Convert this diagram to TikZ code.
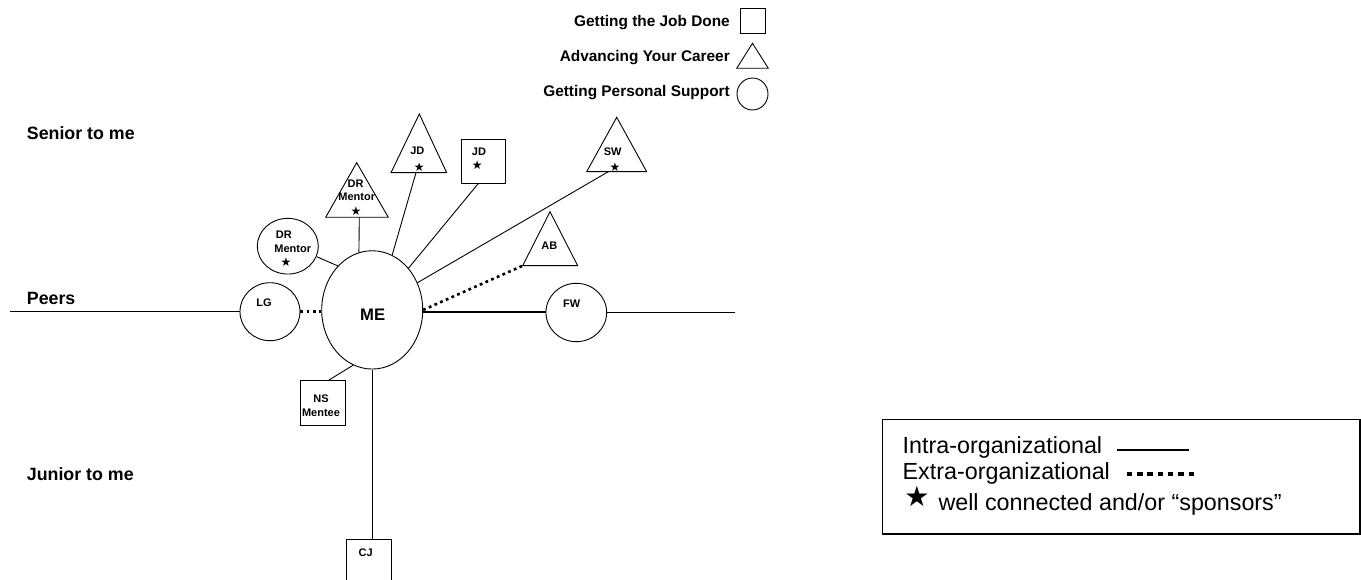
\documentclass[tikz,border=0pt]{standalone}
\usepackage{fontspec}
\setmainfont{Liberation Sans}
\newfontfamily\symfont{DejaVu Sans}
\usetikzlibrary{shapes.geometric}
\tikzset{
  conn/.style={line width=0.9pt},
  dotline/.style={line width=2.6pt, dash pattern=on 2.8pt off 3.4pt},
  shp/.style={draw, line width=0.9pt, inner sep=0pt, fill=white},
  oval/.style={shp, ellipse},
  sq/.style={shp, rectangle},
  tri/.style={line width=0.9pt, fill=white, line join=miter},
  lbl/.style={font=\fontsize{11}{12}\selectfont\bfseries, inner sep=0pt},
  starlbl/.style={font=\symfont\fontsize{12}{12}\selectfont, inner sep=0pt},
  level/.style={font=\fontsize{17.8}{20}\selectfont\bfseries, inner sep=0pt, anchor=base west},
  keytxt/.style={font=\fontsize{15.4}{18}\selectfont\bfseries, inner sep=0pt, anchor=base east},
  boxtxt/.style={font=\fontsize{23.3}{26}\selectfont, inner sep=0pt, anchor=base west}
}
\begin{document}
\begin{tikzpicture}[x=1pt,y=-1pt]
\useasboundingbox (0,0) rectangle (1361,580);
\clip (0,0) rectangle (1361,580);

% level labels
\node[level] (senior) at (26.7,139.3) {Senior to me};
\node[level] (peers) at (26.7,305) {Peers};
\node[level] (junior) at (26.7,480) {Junior to me};

% key at top
\node[keytxt] (k1) at (730,26.7) {Getting the Job Done};
\node[keytxt] (k2) at (730,61.7) {Advancing Your Career};
\node[keytxt] (k3) at (730,96.7) {Getting Personal Support};
\node[sq, minimum width=24.3pt, minimum height=25pt] (ksq) at (752.85,20.8) {};
\draw[tri] (752.5,43.3) -- (768.3,68.3) -- (736.7,68.3) -- cycle;
\node[oval, minimum width=31pt, minimum height=32pt] (kci) at (752.5,94) {};

% connection coordinates
\coordinate (pl) at (10,311.7);
\coordinate (pr) at (735,312.5);
\coordinate (drtb) at (359.3,217.3);
\coordinate (jdtb) at (416,172.7);
\coordinate (swtb) at (608.3,171.7);
\coordinate (abtl) at (522.7,265.7);

% central node
\node[oval, minimum width=101pt, minimum height=118.3pt] (me) at (372.2,309.9) {};

% peers
\node[oval, minimum width=60pt, minimum height=58pt] (lg) at (270,311.7) {};
\node[oval, minimum width=60.7pt, minimum height=58.4pt] (fw) at (576.3,312.5) {};

% other contacts
\node[oval, minimum width=61pt, minimum height=55.7pt] (drc) at (287.8,246.2) {};
\node[sq, minimum width=44.7pt, minimum height=44.3pt] (jds) at (483.35,161.15) {};
\node[sq, minimum width=45pt, minimum height=45pt] (ns) at (322.5,403.2) {};
\node[sq, minimum width=44.3pt, minimum height=45pt] (cj) at (368.85,561.8) {};

% triangles
\draw[tri] (356.7,162.7) -- (388.3,217.3) -- (325.7,217.3) -- cycle;
\draw[tri] (419.3,114) -- (446.7,172.7) -- (391,172.7) -- cycle;
\draw[tri] (616.7,117.3) -- (646.7,171.7) -- (586.7,171.7) -- cycle;
\draw[tri] (550,211.7) -- (577.7,265.7) -- (522.7,265.7) -- cycle;

% connectors
\draw[conn] (pl) -- (lg.west);
\draw[dotline] (lg.east) -- (lg.east -| me.west);
\draw[line width=2pt] (fw.west) -- (fw.west -| me.east);
\draw[conn] (fw.east) -- (pr);
\draw[conn] (drc.-20) -- (me.128);
\draw[conn] (drtb) -- (me.103);
\draw[conn] (jdtb) -- (me.70);
\draw[conn] (jds.-103) -- (me.49);
\draw[conn] (swtb) -- (me.31);
\draw[dotline] (me.east) -- (abtl);
\draw[conn] (ns.75) -- (me.-109);
\draw[conn] (me.south) -- (me.south |- cj.north);

% labels
\node[font=\fontsize{16.7}{18}\selectfont\bfseries, inner sep=0pt] (melbl) at (372.7,315) {ME};
\node[lbl] (lglbl) at (264,302.7) {LG};
\node[lbl] (fwlbl) at (571.7,303.3) {FW};
\node[lbl] (drc1) at (283.8,235) {DR};
\node[lbl] (drc2) at (292.7,248.3) {Mentor};
\node[starlbl] (drc3) at (286,262.3) {★};
\node[lbl] (drt1) at (355.5,183.3) {DR};
\node[lbl] (drt2) at (356.7,196.7) {Mentor};
\node[starlbl] (drt3) at (356,210.7) {★};
\node[lbl] (jdt1) at (417.3,150.7) {JD};
\node[starlbl] (jdt2) at (419.3,166.7) {★};
\node[lbl] (jds1) at (479,151.7) {JD};
\node[starlbl] (jds2) at (477.3,165) {★};
\node[lbl] (swt1) at (612.7,151.7) {SW};
\node[starlbl] (swt2) at (615,167.3) {★};
\node[lbl] (abt1) at (549.3,246) {AB};
\node[lbl] (ns1) at (321,399) {NS};
\node[lbl] (ns2) at (321,412.3) {Mentee};
\node[lbl] (cj1) at (365.7,552.3) {CJ};

% legend box
\draw[line width=1.5pt] (882.3,419.3) rectangle (1360.2,534);
\node[boxtxt] (b1) at (902.5,453.3) {Intra-organizational};
\node[boxtxt] (b2) at (902.5,479.3) {Extra-organizational};
\node[boxtxt] (b3) at (938.3,510) {well connected and/or “sponsors”};
\node[font=\symfont\fontsize{28}{28}\selectfont, inner sep=0pt] (bstar) at (917,496.7) {★};
\coordinate (l1a) at (1116.7,450);
\coordinate (l1b) at (1189,450);
\coordinate (l2a) at (1126.7,474.3);
\coordinate (l2b) at (1194,474.3);
\draw[line width=1.2pt] (l1a) -- (l1b);
\draw[line width=4pt, dash pattern=on 5.5pt off 4.8pt] (l2a) -- (l2b);
\end{tikzpicture}
\end{document}
